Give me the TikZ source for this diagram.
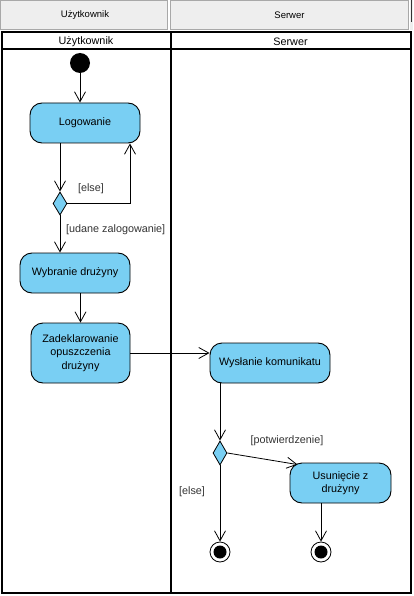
\documentclass[tikz,border=0pt]{standalone}
\usepackage{fontspec}
\setmainfont{Liberation Sans}
\usetikzlibrary{shapes.geometric,arrows.meta}
\definecolor{actfill}{HTML}{79CFF3}
\definecolor{hdrfill}{HTML}{EEEEEE}
\definecolor{hdrline}{HTML}{A8A8A8}
\definecolor{guard}{HTML}{333333}
\tikzset{
  action/.style={draw=black, fill=actfill, rounded corners=12pt, line width=0.9pt,
    align=center, inner sep=2pt, font=\fontsize{10.8}{13.3}\selectfont},
  decision/.style={draw=black, fill=actfill, diamond, inner sep=0pt, line width=0.8pt,
    minimum width=14pt, minimum height=23pt},
  initial/.style={circle, fill=black, minimum size=20pt, inner sep=0pt},
  final/.style={circle, draw=black, fill=white, line width=0.8pt, minimum size=20pt, inner sep=0pt},
  flow/.style={line width=0.8pt, -{Straight Barb[length=10pt,width=11pt,line width=0.8pt]}},
  guardlbl/.style={text=guard, font=\fontsize{10.8}{13}\selectfont, inner sep=0pt},
  lanehdr/.style={font=\fontsize{10.8}{13}\selectfont, inner sep=0pt},
  toplbl/.style={font=\fontsize{9.5}{11}\selectfont, inner sep=0pt},
  lane/.style={line width=2pt, draw=black},
}
\begin{document}
\begin{tikzpicture}[x=1pt,y=-1pt]
\useasboundingbox (0,0) rectangle (413,596);

% column headers above the pool
\draw[hdrline, fill=hdrfill, line width=1pt] (0.5,0.5) rectangle (167.5,30);
\draw[hdrline, fill=hdrfill, line width=1pt] (170.5,0.5) rectangle (408.5,30);
\fill[hdrfill] (409.5,0) rectangle (413,30);
\draw[black!80, line width=1pt] (411.5,0) -- (411.5,22);
\node[toplbl] (topU) at (85,15.5) {Użytkownik};
\node[toplbl] (topS) at (289.5,15.5) {Serwer};

% pool with two swimlanes
\draw[lane] (1.5,32.5) rectangle (410.5,592.5);
\draw[lane] (1.5,49.5) -- (410.5,49.5);
\draw[lane] (170.5,32.5) -- (170.5,592.5);
\node[lanehdr] (hdrU) at (86,41.5) {Użytkownik};
\node[lanehdr] (hdrS) at (290.5,41.5) {Serwer};

% nodes
\node[initial] (start) at (80,63) {};
\node[action, minimum width=110pt, minimum height=40pt] (log) at (85,123) {Logowanie};
\node[decision] (d1) at (60,203.5) {};
\node[action, minimum width=110pt, minimum height=40pt] (wyb) at (75,273) {Wybranie drużyny};
\node[action, minimum width=99pt, minimum height=60pt] (zad) at (80.5,353)
  {Zadeklarowanie\\opuszczenia\\drużyny};
\node[action, minimum width=120pt, minimum height=40pt] (wys) at (270,363) {Wysłanie komunikatu};
\node[decision, minimum height=24pt] (d2) at (220,453) {};
\node[action, minimum width=101pt, minimum height=40pt] (usu) at (340.5,483) {Usunięcie z\\drużyny};
\node[final] (e1) at (220,552) {};
\node[final] (e2) at (321,552) {};
\fill (e1.center) circle (6.5pt);
\fill (e2.center) circle (6.5pt);

% connectors
\draw[flow] (start) -- (start |- log.north);
\draw[flow] (d1 |- log.south) -- (d1.north);
\draw[flow] (d1.east) -| ([xshift=45pt]log.south);
\draw[flow] (d1.south) -- (d1 |- wyb.north);
\draw[flow] (zad.north |- wyb.south) -- (zad.north);
\draw[flow] (zad.east) -- (wys.west |- zad.east);
\draw[flow] (d2 |- wys.south) -- (d2.north);
\draw[flow] (d2.east) -- ([xshift=8pt,yshift=-2pt]usu.north west);
\draw[flow] (d2.south) -- (e1.north);
\draw[flow] (e2 |- usu.south) -- (e2.north);

% guard labels
\node[guardlbl] (g1) at (91,189) {[else]};
\node[guardlbl, anchor=west] (g2) at (66,229.5) {[udane zalogowanie]};
\node[guardlbl] (g3) at (287,441) {[potwierdzenie]};
\node[guardlbl] (g4) at (192,492) {[else]};
\end{tikzpicture}
\end{document}
